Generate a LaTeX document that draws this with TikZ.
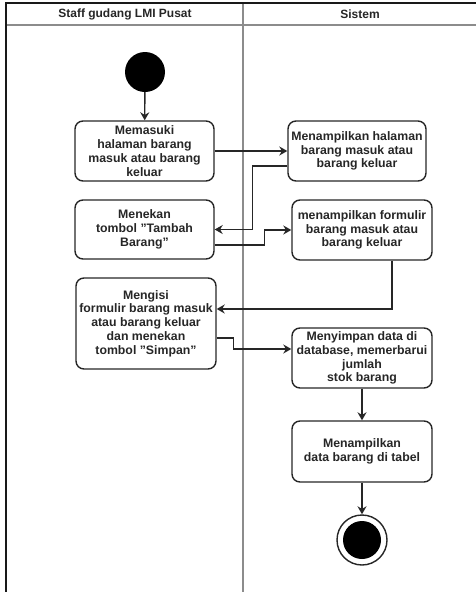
\documentclass[tikz,border=0pt]{standalone}
\usepackage{fontspec}
\setmainfont{Liberation Sans}
\usetikzlibrary{arrows.meta}
\newcommand{\dq}{\symbol{34}}
\begin{document}
\begin{tikzpicture}[x=1pt,y=-1pt,
  act/.style={draw=black!85, line width=1.4pt, rounded corners=8pt, align=center,
    inner sep=1pt, font=\bfseries\fontsize{12.3}{13.8}\selectfont, text=black!85},
  arr/.style={draw=black!85, line width=1.4pt, -{Stealth[length=8pt,width=9pt]}},
  lane/.style={draw=black!45, line width=1.4pt},
  hdr/.style={font=\bfseries\fontsize{12}{13}\selectfont, text=black!85}]
\useasboundingbox (0,0) rectangle (476,592);
% swimlanes
\draw[lane] (6,25) -- (476,25);
\draw[lane] (243,3) -- (243,592);
\draw[draw=black!90, line width=1.4pt] (476,3) -- (6,3) -- (6,592);
\node[hdr] (h1) at (125,14.5) {Staff gudang LMI Pusat};
\node[hdr] (h2) at (360,14.5) {Sistem};
% start
\node[circle, fill=black, minimum size=40pt, inner sep=0pt] (start) at (145,72) {};
% actions
\node[act, minimum width=139pt, minimum height=60pt] (A) at (144.5,151)
  {Memasuki\\halaman barang\\masuk atau barang\\keluar};
\node[act, minimum width=139pt, minimum height=59pt] (B) at (144.5,229.5)
  {Menekan\\tombol \dq Tambah\\Barang\dq};
\node[act, minimum width=140pt, minimum height=91pt] (C) at (146,323.5)
  {Mengisi\\formulir barang masuk\\atau barang keluar\\dan menekan\\tombol \dq Simpan\dq};
\node[act, minimum width=138pt, minimum height=60pt] (D) at (357,151)
  {Menampilkan halaman\\barang masuk atau\\barang keluar};
\node[act, minimum width=140pt, minimum height=60pt] (E) at (362,230)
  {menampilkan formulir\\barang masuk atau\\barang keluar};
\node[act, minimum width=140pt, minimum height=60pt] (F) at (362,358)
  {Menyimpan data di\\database, memerbarui\\jumlah\\stok barang};
\node[act, minimum width=140pt, minimum height=61pt] (G) at (362,451.5)
  {Menampilkan\\data barang di tabel};
% end
\node[circle, draw=black!85, line width=1.4pt, minimum size=50pt, inner sep=0pt] (end) at (362,540) {};
\node[circle, fill=black, minimum size=38pt, inner sep=0pt] (endin) at (end) {};
% connectors
\draw[arr] (start) -- (A);
\draw[arr] (A.east) -- (D.west);
\draw[arr] ([yshift=-15pt]D.west) -- ++(-35,0) |- (B.east);
\draw[arr] ([yshift=-15.5pt]B.east) -- ++(50,0) |- (E.west);
\draw[arr] ([xshift=30pt]E.south) |- ([yshift=14.5pt]C.east);
\draw[arr] ([yshift=-14.5pt]C.east) -- ++(17,0) |- ([yshift=9pt]F.west);
\draw[arr] (F) -- (G);
\draw[arr] (G) -- (end);
\end{tikzpicture}
\end{document}
